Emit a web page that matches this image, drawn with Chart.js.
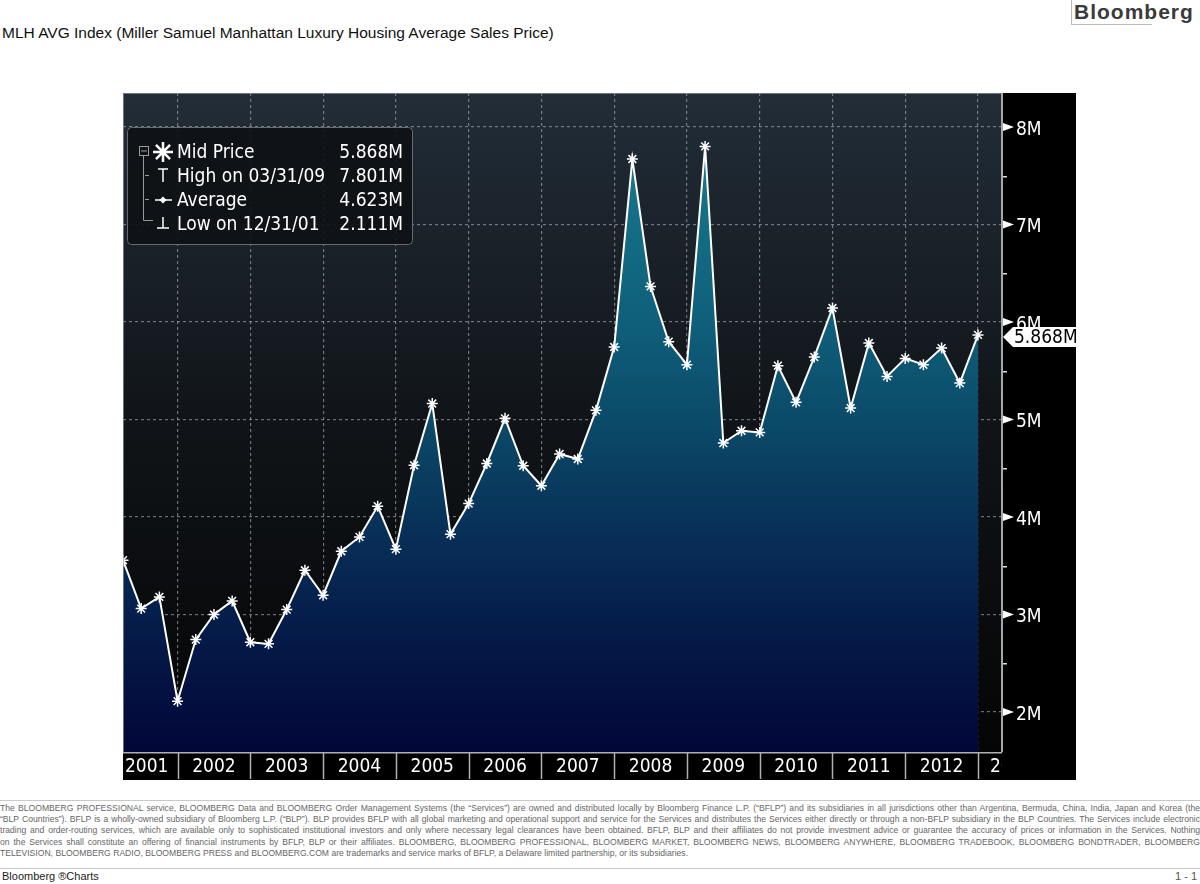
<!DOCTYPE html>
<html>
<head>
<meta charset="utf-8">
<script src="https://cdn.jsdelivr.net/npm/chart.js"></script>
<style>
  html, body { margin: 0; padding: 0; background: #fff; }
  body { width: 1200px; height: 884px; position: relative; overflow: hidden; font-family: "Liberation Sans", Arial, sans-serif; }
  #title { position: absolute; left: 2px; top: 24px; font-size: 15.5px; color: #111; white-space: nowrap; }
  #logo { position: absolute; left: 1071px; top: 0; width: 129px; height: 24px; border-left: 1px solid #bbb; }
  #logo span { position: absolute; left: 2px; top: 0px; font-weight: bold; font-size: 21px; letter-spacing: 1px; color: #3a3a3a; line-height: 24px; }
  #logoline { position: absolute; left: 1071px; top: 24px; width: 81px; height: 1px; background: #bbb; }
  #wrap { position: absolute; left: 123px; top: 93px; width: 953px; height: 687px; }
  .hr { position: absolute; left: 0; width: 1200px; height: 1px; background: #c8c8c8; }
  #disc { position: absolute; left: 0; top: 803px; width: 1200px; color: #666; font-size: 8.6px; }
  #disc div { height: 11.2px; line-height: 11.2px; text-align: justify; text-align-last: justify; overflow: hidden; }
  #disc div.last { text-align-last: left; }
  #foot { position: absolute; left: 2px; top: 870px; font-size: 11px; color: #222; }
  #page { position: absolute; right: 3px; top: 870px; font-size: 11px; color: #555; }
</style>
</head>
<body>
<div id="title">MLH AVG Index (Miller Samuel Manhattan Luxury Housing Average Sales Price)</div>
<div id="logo"><span>Bloomberg</span></div>
<div id="logoline"></div>
<div id="wrap"><canvas id="chart"></canvas></div>
<div class="hr" style="top:800px"></div>
<div id="disc">
  <div>The BLOOMBERG PROFESSIONAL service, BLOOMBERG Data and BLOOMBERG Order Management Systems (the “Services”) are owned and distributed locally by Bloomberg Finance L.P. (“BFLP”) and its subsidiaries in all jurisdictions other than Argentina, Bermuda, China, India, Japan and Korea (the</div>
  <div>“BLP Countries”). BFLP is a wholly-owned subsidiary of Bloomberg L.P. (“BLP”). BLP provides BFLP with all global marketing and operational support and service for the Services and distributes the Services either directly or through a non-BFLP subsidiary in the BLP Countries. The Services include electronic</div>
  <div>trading and order-routing services, which are available only to sophisticated institutional investors and only where necessary legal clearances have been obtained. BFLP, BLP and their affiliates do not provide investment advice or guarantee the accuracy of prices or information in the Services. Nothing</div>
  <div>on the Services shall constitute an offering of financial instruments by BFLP, BLP or their affiliates. BLOOMBERG, BLOOMBERG PROFESSIONAL, BLOOMBERG MARKET, BLOOMBERG NEWS, BLOOMBERG ANYWHERE, BLOOMBERG TRADEBOOK, BLOOMBERG BONDTRADER, BLOOMBERG</div>
  <div class="last">TELEVISION, BLOOMBERG RADIO, BLOOMBERG PRESS and BLOOMBERG.COM are trademarks and service marks of BFLP, a Delaware limited partnership, or its subsidiaries.</div>
</div>
<div class="hr" style="top:868px"></div>
<div id="foot">Bloomberg ®Charts</div>
<div id="page">1 - 1</div>
<script>
// quarterly closes, 03/31/01 .. 12/31/12 (in millions)
const quarters = [
  '03/31/01','06/30/01','09/30/01','12/31/01',
  '03/31/02','06/30/02','09/30/02','12/31/02',
  '03/31/03','06/30/03','09/30/03','12/31/03',
  '03/31/04','06/30/04','09/30/04','12/31/04',
  '03/31/05','06/30/05','09/30/05','12/31/05',
  '03/31/06','06/30/06','09/30/06','12/31/06',
  '03/31/07','06/30/07','09/30/07','12/31/07',
  '03/31/08','06/30/08','09/30/08','12/31/08',
  '03/31/09','06/30/09','09/30/09','12/31/09',
  '03/31/10','06/30/10','09/30/10','12/31/10',
  '03/31/11','06/30/11','09/30/11','12/31/11',
  '03/31/12','06/30/12','09/30/12','12/31/12'
];
const midPrice = [
  3.557, 3.061, 3.181, 2.111,
  2.743, 3.000, 3.140, 2.716,
  2.699, 3.051, 3.454, 3.198,
  3.649, 3.796, 4.111, 3.670,
  4.531, 5.164, 3.824, 4.138,
  4.549, 5.012, 4.526, 4.321,
  4.646, 4.595, 5.094, 5.744,
  7.672, 6.365, 5.798, 5.562,
  7.801, 4.759, 4.885, 4.868,
  5.552, 5.176, 5.641, 6.144,
  5.118, 5.785, 5.442, 5.627,
  5.562, 5.733, 5.374, 5.868
];
const years = ['2001','2002','2003','2004','2005','2006','2007','2008','2009','2010','2011','2012','2013'];
const yTicks = [2, 3, 4, 5, 6, 7, 8];
const legendRows = [
  ['Mid Price', '5.868M'],
  ['High on 03/31/09', '7.801M'],
  ['Average', '4.623M'],
  ['Low on 12/31/01', '2.111M']
];
const lastLabel = '5.868M';

const FONT = '"DejaVu Sans Condensed", "DejaVu Sans", sans-serif';
const yearEnds = years.slice(0, 12).map((y, i) => 3 + i * 4);   // index of 12/31 of each year

const chartBg = {
  id: 'chartBg',
  beforeDraw(chart) {
    const { ctx, chartArea: a, width, height } = chart;
    ctx.save();
    ctx.fillStyle = '#000';
    ctx.fillRect(0, 0, width, height);
    const g = ctx.createLinearGradient(0, a.top, 0, a.bottom);
    g.addColorStop(0, '#222d38');
    g.addColorStop(0.5, '#101418');
    g.addColorStop(1, '#050506');
    ctx.fillStyle = g;
    ctx.fillRect(a.left, a.top, a.right - a.left, a.bottom - a.top);
    ctx.restore();
  }
};

const decor = {
  id: 'decor',
  afterDraw(chart) {
    const { ctx, chartArea: a, height } = chart;
    const xs = chart.scales.x, ys = chart.scales.y;
    ctx.save();

    // plot frame, left/top
    ctx.strokeStyle = 'rgba(150,150,150,0.7)';
    ctx.lineWidth = 1;
    ctx.beginPath();
    ctx.moveTo(a.left + 0.5, a.bottom); ctx.lineTo(a.left + 0.5, a.top + 0.5); ctx.lineTo(a.right, a.top + 0.5);
    ctx.stroke();

    // year bar
    ctx.strokeStyle = '#b0b0b0';
    ctx.lineWidth = 1.5;
    ctx.beginPath();
    ctx.moveTo(a.left, a.bottom + 0.75); ctx.lineTo(a.right, a.bottom + 0.75);
    yearEnds.forEach(v => {
      const px = Math.round(xs.getPixelForValue(v)) + 0.5;
      ctx.moveTo(px, a.bottom); ctx.lineTo(px, height - 1);
    });
    ctx.stroke();

    ctx.save();
    ctx.beginPath();
    ctx.rect(a.left, a.bottom, a.right - a.left, height - a.bottom);
    ctx.clip();
    ctx.fillStyle = '#fff';
    ctx.font = '19px ' + FONT;
    ctx.textBaseline = 'middle';
    ctx.textAlign = 'left';
    years.forEach((y, i) => {
      const w = ctx.measureText(y).width;
      let x0 = xs.getPixelForValue(1 + i * 4) - w / 2;
      if (x0 < a.left + 2) x0 = a.left + 2;
      const prevEnd = xs.getPixelForValue(i * 4 - 1);
      if (i === years.length - 1) x0 = Math.min(x0, prevEnd + 12);
      ctx.fillText(y, x0, a.bottom + 15);
    });
    ctx.restore();

    // right axis tick marks
    ctx.fillStyle = '#fff';
    yTicks.forEach(v => {
      const py = ys.getPixelForValue(v);
      ctx.beginPath();
      ctx.moveTo(a.right + 1, py - 4);
      ctx.lineTo(a.right + 12, py);
      ctx.lineTo(a.right + 1, py + 4);
      ctx.closePath();
      ctx.fill();
    });
    ctx.fillStyle = '#ddd';
    yTicks.slice(0, -1).forEach(v => {
      const py = Math.round(ys.getPixelForValue(v + 0.5));
      ctx.fillRect(a.right + 1, py, 4, 1.5);
    });

    // last value tag
    const last = midPrice[midPrice.length - 1];
    const ty = ys.getPixelForValue(last) + 2;
    ctx.fillStyle = '#fff';
    ctx.beginPath();
    ctx.moveTo(a.right + 1, ty);
    ctx.lineTo(a.right + 11, ty - 10);
    ctx.lineTo(a.right + 75, ty - 10);
    ctx.lineTo(a.right + 75, ty + 10);
    ctx.lineTo(a.right + 11, ty + 10);
    ctx.closePath();
    ctx.fill();
    ctx.fillStyle = '#000';
    ctx.font = '19px ' + FONT;
    ctx.textAlign = 'left';
    ctx.textBaseline = 'middle';
    ctx.fillText(lastLabel, a.right + 12, ty + 1);

    // legend box
    const lx = a.left + 4, ly = a.top + 34, lw = 285, lh = 117;
    ctx.fillStyle = 'rgba(14,17,21,0.92)';
    ctx.strokeStyle = '#6a6a6a';
    ctx.lineWidth = 1;
    ctx.beginPath();
    ctx.roundRect(lx + 0.5, ly + 0.5, lw, lh, 4);
    ctx.fill();
    ctx.stroke();

    const rowY = [59, 83, 107, 131].map(r => a.top + r);
    const sx = a.left + 40;
    ctx.strokeStyle = '#9a9a9a';
    ctx.lineWidth = 1;
    ctx.strokeRect(a.left + 16.5, rowY[0] - 5.5, 9, 9);
    ctx.beginPath();
    ctx.moveTo(a.left + 18, rowY[0] - 1); ctx.lineTo(a.left + 24, rowY[0] - 1);
    ctx.moveTo(a.left + 20.5, rowY[0] + 3.5); ctx.lineTo(a.left + 20.5, rowY[3] - 3.5);
    ctx.lineTo(a.left + 30, rowY[3] - 3.5);
    ctx.moveTo(a.left + 22, rowY[1] - 0.5); ctx.lineTo(a.left + 26, rowY[1] - 0.5);
    ctx.moveTo(a.left + 22, rowY[2] - 0.5); ctx.lineTo(a.left + 26, rowY[2] - 0.5);
    ctx.stroke();

    ctx.strokeStyle = '#fff';
    ctx.fillStyle = '#fff';
    ctx.lineWidth = 2.5;
    ctx.beginPath();
    const r = 10;
    for (let k = 0; k < 4; k++) {
      const ang = k * Math.PI / 4;
      ctx.moveTo(sx - r * Math.cos(ang), rowY[0] - r * Math.sin(ang));
      ctx.lineTo(sx + r * Math.cos(ang), rowY[0] + r * Math.sin(ang));
    }
    ctx.stroke();
    ctx.lineWidth = 1.5;
    ctx.beginPath();
    ctx.moveTo(sx - 5, rowY[1] - 7); ctx.lineTo(sx + 5, rowY[1] - 7);
    ctx.moveTo(sx, rowY[1] - 7); ctx.lineTo(sx, rowY[1] + 6);
    ctx.moveTo(sx - 8, rowY[2]); ctx.lineTo(sx + 9, rowY[2]);
    ctx.moveTo(sx, rowY[3] - 7); ctx.lineTo(sx, rowY[3] + 4);
    ctx.moveTo(sx - 6, rowY[3] + 4); ctx.lineTo(sx + 6, rowY[3] + 4);
    ctx.stroke();
    ctx.beginPath();
    ctx.moveTo(sx, rowY[2] - 3.5); ctx.lineTo(sx + 3.5, rowY[2]); ctx.lineTo(sx, rowY[2] + 3.5); ctx.lineTo(sx - 3.5, rowY[2]);
    ctx.closePath();
    ctx.fill();

    ctx.font = '19px ' + FONT;
    ctx.textBaseline = 'middle';
    legendRows.forEach((row, i) => {
      ctx.textAlign = 'left';
      ctx.fillText(row[0], a.left + 54, rowY[i] + 1);
      ctx.textAlign = 'right';
      ctx.fillText(row[1], a.left + 280, rowY[i] + 1);
    });
    ctx.restore();
  }
};

new Chart(document.getElementById('chart'), {
  type: 'line',
  data: {
    labels: quarters,
    datasets: [{
      data: midPrice.map((v, i) => ({ x: i, y: v })),
      borderColor: '#fff',
      borderWidth: 2,
      tension: 0,
      fill: 'start',
      backgroundColor(ctx) {
        const a = ctx.chart.chartArea;
        if (!a) return '#0a3a66';
        const g = ctx.chart.ctx.createLinearGradient(0, a.top, 0, a.bottom);
        g.addColorStop(0, '#1a8093');
        g.addColorStop(0.35, '#0f5f7a');
        g.addColorStop(0.5, '#0b4a69');
        g.addColorStop(0.65, '#083259');
        g.addColorStop(0.8, '#051d4a');
        g.addColorStop(1, '#020638');
        return g;
      },
      pointStyle: 'star',
      pointRadius: 5.5,
      pointBorderWidth: 1.5,
      pointBorderColor: '#fff',
      pointBackgroundColor: '#fff'
    }]
  },
  options: {
    responsive: true,
    maintainAspectRatio: false,
    animation: false,
    layout: { padding: 0, autoPadding: false },
    plugins: { legend: { display: false }, tooltip: { enabled: false } },
    scales: {
      x: {
        type: 'linear',
        min: 0,
        max: 48.32,
        z: 1,
        afterBuildTicks(s) { s.ticks = yearEnds.map(v => ({ value: v })); },
        afterFit(s) { s.height = 28; s.paddingLeft = 0; s.paddingRight = 0; },
        ticks: { display: false },
        grid: { color: 'rgba(175,175,185,0.6)', lineWidth: 1.2, drawTicks: false },
        border: { display: false, dash: [3, 3] }
      },
      y: {
        position: 'right',
        min: 1.59,
        max: 8.349,
        z: 1,
        afterBuildTicks(s) { s.ticks = yTicks.map(v => ({ value: v })); },
        afterFit(s) { s.width = 74; s.paddingTop = 0; s.paddingBottom = 0; },
        ticks: {
          color: '#fff',
          padding: 14,
          labelOffset: 3,
          font: { family: FONT, size: 19 },
          callback: v => v + 'M'
        },
        grid: { color: 'rgba(175,175,185,0.6)', lineWidth: 1.2, drawTicks: false },
        border: { display: true, color: '#a8a8a8', width: 2, dash: [3, 3] }
      }
    }
  },
  plugins: [chartBg, decor]
});
</script>
</body>
</html>
